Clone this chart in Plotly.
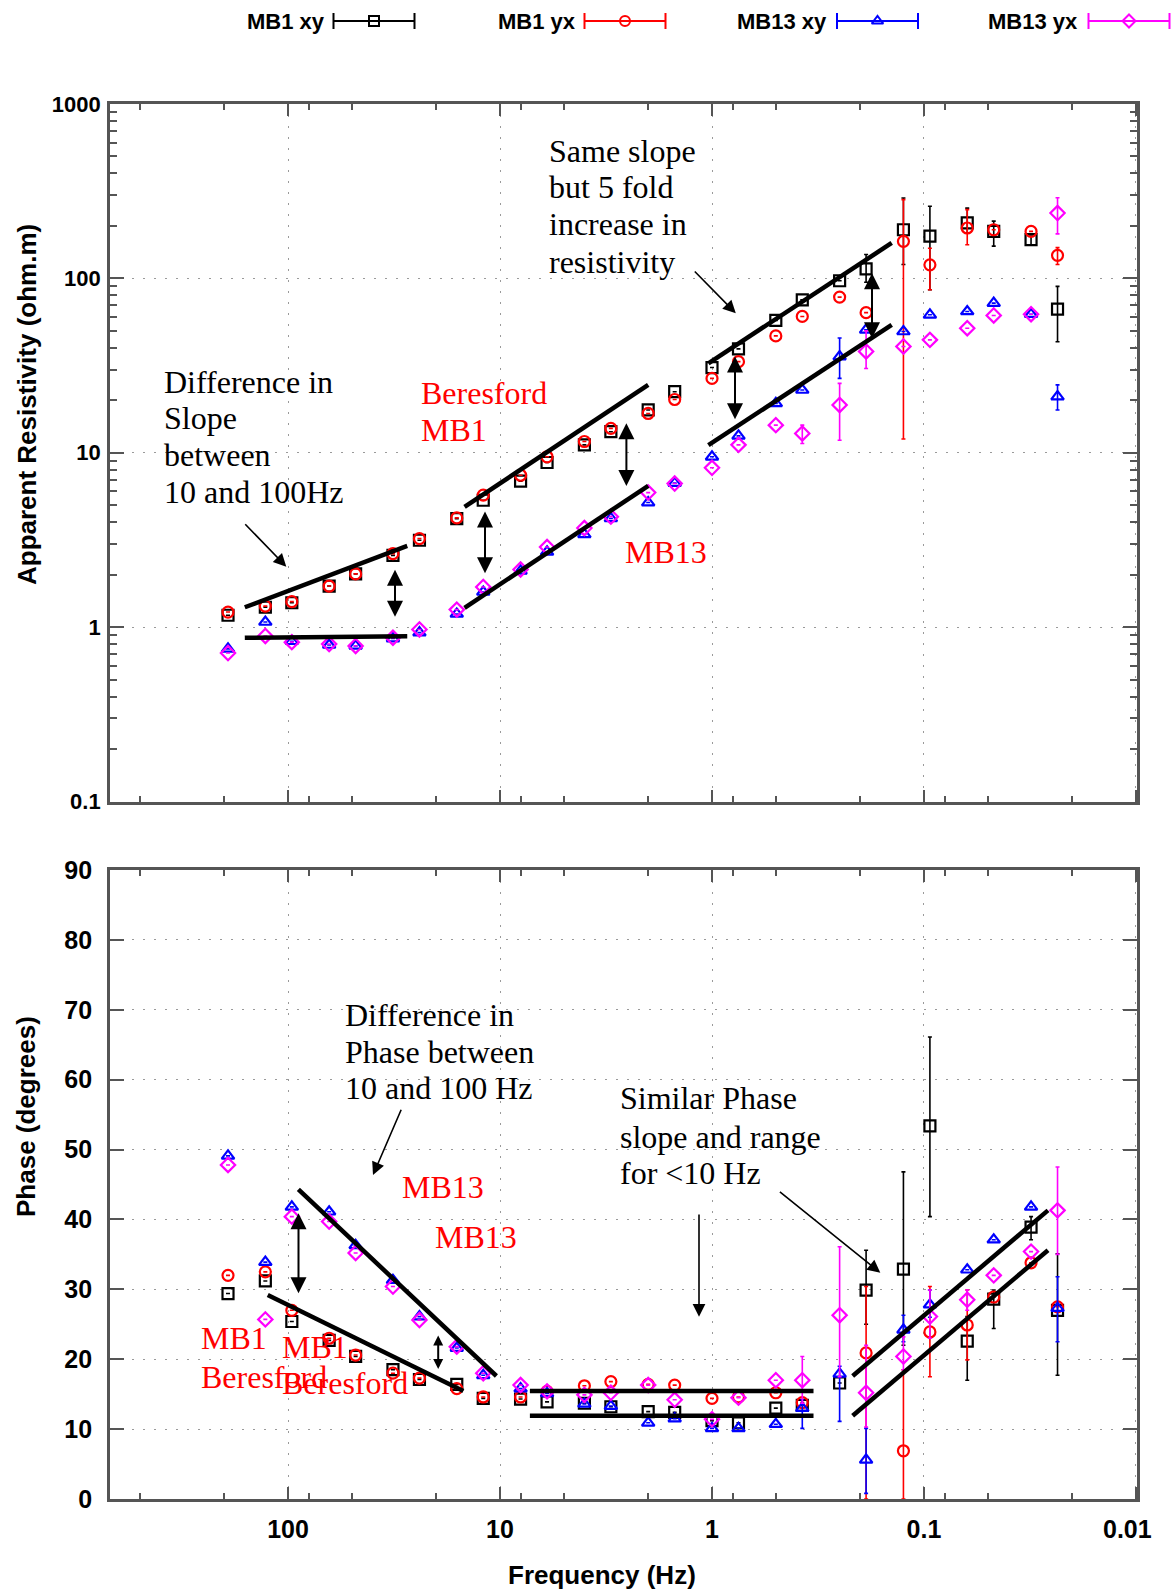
import plotly.graph_objects as go

W, H = 1176, 1596

# ---------------- data ----------------
freq = [192, 128, 96, 64, 48, 32, 24, 16, 12, 8, 6, 4, 3, 2, 1.5, 1, 0.75, 0.5,
        0.375, 0.25, 0.1875, 0.125, 0.09375, 0.0625, 0.046875, 0.03125, 0.0234375]

series_names = ["MB1 xy", "MB1 yx", "MB13 xy", "MB13 yx"]

rho_mb1_xy = [1.17, 1.30, 1.38, 1.72, 2.02, 2.58, 3.15, 4.19, 5.34, 6.87, 8.79, 11.1, 13.2, 17.6,
              22.4, 30.8, 39.4, 57.4, 75.3, 96.9, 113.5, 190, 174.6, 208, 186, 166.7, 66.6]
rho_mb1_yx = [1.22, 1.32, 1.40, 1.72, 2.02, 2.64, 3.22, 4.23, 5.71, 7.43, 9.48, 11.6, 13.8, 16.8,
              20.2, 26.7, 33.3, 46.8, 60.5, 78.1, 63.6, 163, 119.6, 194.5, 190, 186, 135.5]
rho_mb13_xy = [0.75, 1.07, 0.83, 0.79, 0.78, 0.86, 0.93, 1.19, 1.59, 2.10, 2.70, 3.40, 4.2, 5.18,
               6.7, 9.48, 12.5, 19.2, 22.9, 35.6, 50.7, 49.6, 61.8, 64.6, 72.1, 62.3, 21.0]
rho_mb13_yx = [0.71, 0.89, 0.82, 0.80, 0.78, 0.87, 0.97, 1.26, 1.70, 2.14, 2.88, 3.70, 4.3, 5.91,
               6.66, 8.2, 11.1, 14.4, 12.9, 18.8, 38.1, 40.7, 44.4, 51.8, 61.3, 62.3, 237]

# error-bar bounds (None = no visible bar)
rho_mb1_xy_hi = [None, None, None, None, None, None, None, None, None, None, None, None, None, None,
                 None, None, None, None, None, None, 137, 289, 259, 253, 213, 175, 90]
rho_mb1_xy_lo = [None, None, None, None, None, None, None, None, None, None, None, None, None, None,
                 None, None, None, None, None, None, 95, 120, 86, 182, 153, 155, 43.3]
rho_mb1_yx_hi = [None, None, None, None, None, None, None, None, None, None, None, None, None, None,
                 None, None, None, None, None, None, None, 283, 149, 248, None, None, 150]
rho_mb1_yx_lo = [None, None, None, None, None, None, None, None, None, None, None, None, None, None,
                 None, None, None, None, None, None, None, 12, 86, 156, None, None, 120]
rho_mb13_xy_hi = [None, None, None, None, None, None, None, None, None, None, None, None, None, None,
                  None, None, None, None, None, 45.5, None, None, None, None, None, None, 24.5]
rho_mb13_xy_lo = [None, None, None, None, None, None, None, None, None, None, None, None, None, None,
                  None, None, None, None, None, 26.7, None, None, None, None, None, None, 17.6]
rho_mb13_yx_hi = [None, None, None, None, None, None, None, None, None, None, None, None, None, None,
                  None, None, None, None, 14.4, 25.0, 50.0, None, None, None, None, None, 290]
rho_mb13_yx_lo = [None, None, None, None, None, None, None, None, None, None, None, None, None, None,
                  None, None, None, None, 11.3, 11.8, 30.4, None, None, None, None, None, 180]

ph_mb1_xy = [29.4, 31.2, 25.4, 22.7, 20.4, 18.5, 17.1, 16.4, 14.4, 14.3, 13.9, 13.7, 13.2, 12.5,
             12.4, 11.2, 10.9, 13.0, 13.4, 16.6, 29.9, 32.9, 53.4, 22.6, 28.6, 38.9, 27.0]
ph_mb1_yx = [32.0, 32.5, 27.0, 23.0, 20.6, 18.0, 17.3, 15.8, 14.6, 14.6, 15.4, 16.2, 16.8, 16.4,
             16.3, 14.4, 14.6, 15.2, 13.8, None, 20.9, 6.9, 23.9, 24.9, 28.9, 33.8, 27.5]
ph_mb13_xy = [49.1, 33.9, 41.8, 41.1, 36.3, 31.3, 26.1, 21.6, 17.7, 15.8, 15.1, 13.6, 13.3, 10.9,
              11.5, 10.1, 10.1, 10.7, 13.0, 17.9, 5.6, 24.2, 27.8, 32.8, 37.1, 41.8, 27.3]
ph_mb13_yx = [47.8, 25.7, 40.4, 39.7, 35.2, 30.4, 25.6, 21.8, 18.0, 16.3, 15.4, 14.9, 15.2, 16.3,
              14.2, 11.4, 14.5, 17.0, 17.0, 26.3, 15.2, 20.4, 26.1, 28.5, 32.0, 35.4, 41.3]

ph_mb1_xy_hi = [None, None, None, None, None, None, None, None, None, None, None, None, None, None,
                None, None, None, None, None, None, 35.6, 46.8, 66.1, 26.1, 29.9, 40.4, 35.1]
ph_mb1_xy_lo = [None, None, None, None, None, None, None, None, None, None, None, None, None, None,
                None, None, None, None, None, None, 25.0, 22.0, 40.4, 17.0, 24.4, 37.1, 17.7]
ph_mb1_yx_hi = [None, None, None, None, None, None, None, None, None, None, None, None, None, None,
                None, None, None, None, None, None, 30.4, 18.5, 30.4, 29.9, None, None, None]
ph_mb1_yx_lo = [None, None, None, None, None, None, None, None, None, None, None, None, None, None,
                None, None, None, None, None, None, 0.0, 0.0, 17.5, 19.9, None, None, None]
ph_mb13_xy_hi = [None, None, None, None, None, None, None, None, None, None, None, None, None, None,
                 None, None, None, None, 14.2, 19.0, 10.1, 26.3, 29.9, None, None, None, 31.8]
ph_mb13_xy_lo = [None, None, None, None, None, None, None, None, None, None, None, None, None, None,
                 None, None, None, None, 10.1, 11.1, 0.8, 22.5, 26.0, None, None, None, 22.5]
ph_mb13_yx_hi = [None, None, None, None, None, None, None, None, None, None, None, None, None, None,
                 None, None, None, None, 20.4, 36.1, 22.0, 23.2, 29.9, 29.9, None, None, 47.5]
ph_mb13_yx_lo = [None, None, None, None, None, None, None, None, None, None, None, None, None, None,
                 None, None, None, None, 13.7, 17.5, 10.3, 18.5, 23.0, 27.0, None, None, 35.0]

# hand-drawn interpretation lines (frequency, value)
rho_lines_f = [[160, 27.4], [160, 27.4], [14.7, 2.0], [14.7, 2.0], [1.04, 0.142], [1.04, 0.142]]
rho_lines_v = [[1.30, 2.92], [0.868, 0.887], [4.89, 24.5], [1.29, 6.46], [32.6, 159.6], [11.06, 54.1]]
ph_lines_f = [[89.4, 10.4], [124.7, 14.9], [7.23, 0.332], [7.23, 0.332], [0.217, 0.026], [0.217, 0.026]]
ph_lines_v = [[44.3, 17.6], [29.2, 15.45], [15.45, 15.45], [11.9, 11.9], [17.6, 41.3], [11.9, 35.6]]

x_tickvals = [100, 10, 1, 0.1, 0.01]
x_ticktext = ["100", "10", "1", "0.1", ""]
x_last_label = "0.01"
x_minor = [500, 200, 80, 50, 20, 8, 5, 2, 0.8, 0.5, 0.2, 0.08, 0.05, 0.02]
rho_tickvals = [0.1, 1, 10, 100, 1000]
rho_ticktext = ["0.1", "1", "10", "100", "1000"]
ph_tickvals = [0, 10, 20, 30, 40, 50, 60, 70, 80, 90]

# ---------------- style ----------------
colors = ["#000000", "#ff0000", "#0000ff", "#ff00ff"]
symbols = ["square-open", "circle-open", "triangle-up-open", "diamond-open"]
SANS = "Liberation Sans, Arial, sans-serif"
SERIF = "Liberation Serif, Times New Roman, serif"
AXC = "#555555"
GRID = dict(showgrid=True, gridcolor="#9a9a9a", griddash="2px,9px", gridwidth=1.2)


def errs(vals, hi, lo):
    plus, minus = [], []
    for v, h, l in zip(vals, hi, lo):
        plus.append(h - v if (v is not None and h is not None) else 0)
        minus.append(v - l if (v is not None and l is not None) else 0)
    return plus, minus


fig = go.Figure()

rho_sets = [(rho_mb1_xy, rho_mb1_xy_hi, rho_mb1_xy_lo), (rho_mb1_yx, rho_mb1_yx_hi, rho_mb1_yx_lo),
            (rho_mb13_xy, rho_mb13_xy_hi, rho_mb13_xy_lo), (rho_mb13_yx, rho_mb13_yx_hi, rho_mb13_yx_lo)]
ph_sets = [(ph_mb1_xy, ph_mb1_xy_hi, ph_mb1_xy_lo), (ph_mb1_yx, ph_mb1_yx_hi, ph_mb1_yx_lo),
           (ph_mb13_xy, ph_mb13_xy_hi, ph_mb13_xy_lo), (ph_mb13_yx, ph_mb13_yx_hi, ph_mb13_yx_lo)]

for i, name in enumerate(series_names):
    for (vals, hi, lo), xa, ya in [(rho_sets[i], "x", "y"), (ph_sets[i], "x2", "y2")]:
        p, m = errs(vals, hi, lo)
        fig.add_trace(go.Scatter(
            x=freq, y=vals, mode="markers", name=name, showlegend=False,
            xaxis=xa, yaxis=ya,
            marker=dict(symbol=symbols[i], size=11, color=colors[i], line=dict(width=2.2, color=colors[i])),
            error_y=dict(type="data", symmetric=False, array=p, arrayminus=m,
                         color=colors[i], thickness=1.6, width=2),
        ))

for fx, vy in zip(rho_lines_f, rho_lines_v):
    fig.add_trace(go.Scatter(x=fx, y=vy, mode="lines", xaxis="x", yaxis="y", showlegend=False,
                             line=dict(color="black", width=4.5), hoverinfo="skip"))
for fx, vy in zip(ph_lines_f, ph_lines_v):
    fig.add_trace(go.Scatter(x=fx, y=vy, mode="lines", xaxis="x2", yaxis="y2", showlegend=False,
                             line=dict(color="black", width=4.5), hoverinfo="skip"))

# ---------------- legend drawn across the top ----------------
leg_sym_x = [374, 625, 877.5, 1129]
leg_txt_x = [327, 578, 829, 1080]
leg_half = 40.5
leg_y = 21
for i, name in enumerate(series_names):
    fig.add_trace(go.Scatter(
        x=[leg_sym_x[i]], y=[leg_y], mode="markers", xaxis="x3", yaxis="y3", showlegend=False,
        marker=dict(symbol=symbols[i], size=10, color=colors[i], line=dict(width=2, color=colors[i])),
        error_x=dict(type="constant", value=leg_half, color=colors[i], thickness=2, width=8),
        hoverinfo="skip"))

# ---------------- layout ----------------
XD = [109.8 / W, 1137 / W]
Y1 = [1 - 801.5 / H, 1 - 104 / H]
Y2 = [1 - 1499 / H, 1 - 870 / H]

xbase = dict(type="log", range=[2.841, -2.005], domain=XD, showline=True, linecolor=AXC, linewidth=2.5,
             mirror="ticks", ticks="inside", ticklen=12, tickwidth=2, tickcolor=AXC,
             tickmode="array", tickvals=x_tickvals, ticktext=x_ticktext, zeroline=False,
             minor=dict(tickmode="array", tickvals=x_minor, ticks="inside", ticklen=6, tickwidth=1.6,
                        tickcolor=AXC, showgrid=False), **GRID)

rho_minor = [k * 10 ** e for e in range(-1, 3) for k in range(2, 10)]

fig.update_layout(
    width=W, height=H, margin=dict(l=0, r=0, t=0, b=0, autoexpand=False),
    paper_bgcolor="white", plot_bgcolor="white", showlegend=False,
    xaxis=dict(xbase, anchor="y", showticklabels=False),
    yaxis=dict(type="log", range=[-1, 3], domain=Y1, anchor="x", showline=True, linecolor=AXC,
               linewidth=2.5, mirror="ticks", ticks="inside", ticklen=14, tickwidth=2, tickcolor=AXC,
               tickmode="array", tickvals=rho_tickvals, ticktext=rho_ticktext,
               tickfont=dict(family=SANS, size=22, color="black", weight="bold"), ticklabelstandoff=2,
               zeroline=False,
               minor=dict(tickmode="array", tickvals=rho_minor, ticks="inside", ticklen=7, tickwidth=1.6,
                          tickcolor=AXC, showgrid=False), **GRID),
    xaxis2=dict(xbase, anchor="y2", showticklabels=True,
                tickfont=dict(family=SANS, size=25, color="black", weight="bold"), ticklabelstandoff=6),
    yaxis2=dict(range=[0, 90], domain=Y2, anchor="x2", showline=True, linecolor=AXC, linewidth=2.5,
                mirror="ticks", ticks="inside", ticklen=14, tickwidth=2, tickcolor=AXC,
                tickmode="array", tickvals=ph_tickvals,
                tickfont=dict(family=SANS, size=25, color="black", weight="bold"), ticklabelstandoff=10,
                zeroline=False, **GRID),
    xaxis3=dict(domain=[0, 1], range=[0, W], visible=False, anchor="y3", fixedrange=True),
    yaxis3=dict(domain=[1 - 45 / H, 1], range=[45, 0], visible=False, anchor="x3", fixedrange=True),
)


def P(x, y):
    return x / W, 1 - y / H


anns = []


def text(x, y, s, color="black", size=32, family=SERIF, xanchor="left", angle=0, bold=False):
    if xanchor == "left":
        x -= 3
    px, py = P(x, y)
    anns.append(dict(x=px, y=py, xref="paper", yref="paper", text=s, showarrow=False,
                     xanchor=xanchor, yanchor="middle", textangle=angle,
                     font=dict(family=family, size=size, color=color, weight="bold" if bold else "normal")))


def arrow(tail, head, both=False, width=2, size=1.6):
    hx, hy = P(*head)
    anns.append(dict(x=hx, y=hy, xref="paper", yref="paper", ax=tail[0] - head[0], ay=tail[1] - head[1],
                     axref="pixel", ayref="pixel", text="", showarrow=True, arrowhead=2, arrowsize=size,
                     arrowwidth=width, arrowcolor="black", arrowside="end+start" if both else "end"))


# legend labels
for i, name in enumerate(series_names):
    text(leg_txt_x[i], leg_y, name, size=22, family=SANS, xanchor="right", bold=True)

# axis titles and the last x tick label
text(27, 405, "Apparent Resistivity (ohm.m)", size=26, family=SANS, xanchor="center", angle=-90, bold=True)
text(26, 1117, "Phase (degrees)", size=26, family=SANS, xanchor="center", angle=-90, bold=True)
text(601.5, 1575, "Frequency (Hz)", size=26, family=SANS, xanchor="center", bold=True)
text(1127, 1529, x_last_label, size=25, family=SANS, xanchor="center", bold=True)

# resistivity notes
for s, y in [("Same slope", 150.7), ("but 5 fold", 187.3), ("increase in", 224), ("resistivity", 261.7)]:
    text(549.8, y, s)
for s, y in [("Difference in", 381.7), ("Slope", 418.3), ("between", 455), ("10 and 100Hz", 491.7)]:
    text(165, y, s)
text(422, 393.3, "Beresford", color="red")
text(422, 430, "MB1", color="red")
text(626.4, 551.7, "MB13", color="red")

# phase notes
for s, y in [("Difference in", 1015), ("Phase between", 1051.7), ("10 and 100 Hz", 1088.3)]:
    text(346.3, y, s)
for s, y in [("Similar Phase", 1098.3), ("slope and range", 1136.7), ("for <10 Hz", 1173.3)]:
    text(621, y, s)
text(403, 1186.7, "MB13", color="red")
text(436.3, 1237.3, "MB13", color="red")
text(202, 1338.3, "MB1", color="red")
text(202, 1376.7, "Beresford", color="red")
text(283.2, 1346.7, "MB1", color="red")
text(283.2, 1383.3, "Beresford", color="red")

# arrows
for x, y0, y1 in [(395, 568.3, 616.7), (485, 510, 573.3), (626.4, 421.7, 486), (735, 355, 419.3),
                  (872, 271.7, 338.3), (298.5, 1211.7, 1293.3)]:
    arrow((x, y0), (x, y1), both=True)
arrow((438.2, 1334), (438.2, 1369), both=True, size=1.0)
for tail, head in [((243.8, 522.7), (286.3, 566.7)), ((693.3, 270), (735.8, 313.3)),
                   ((401.8, 1108.3), (373, 1175)), ((699, 1213), (699, 1316.7)),
                   ((778.4, 1190.7), (880.3, 1272.7))]:
    arrow(tail, head, width=1.6)

fig.update_layout(annotations=anns)
fig.write_html(
    "out.html",
    post_script="document.documentElement.style.overflow='hidden';"
                "document.body.style.margin='0';document.body.style.overflow='hidden';",
)
